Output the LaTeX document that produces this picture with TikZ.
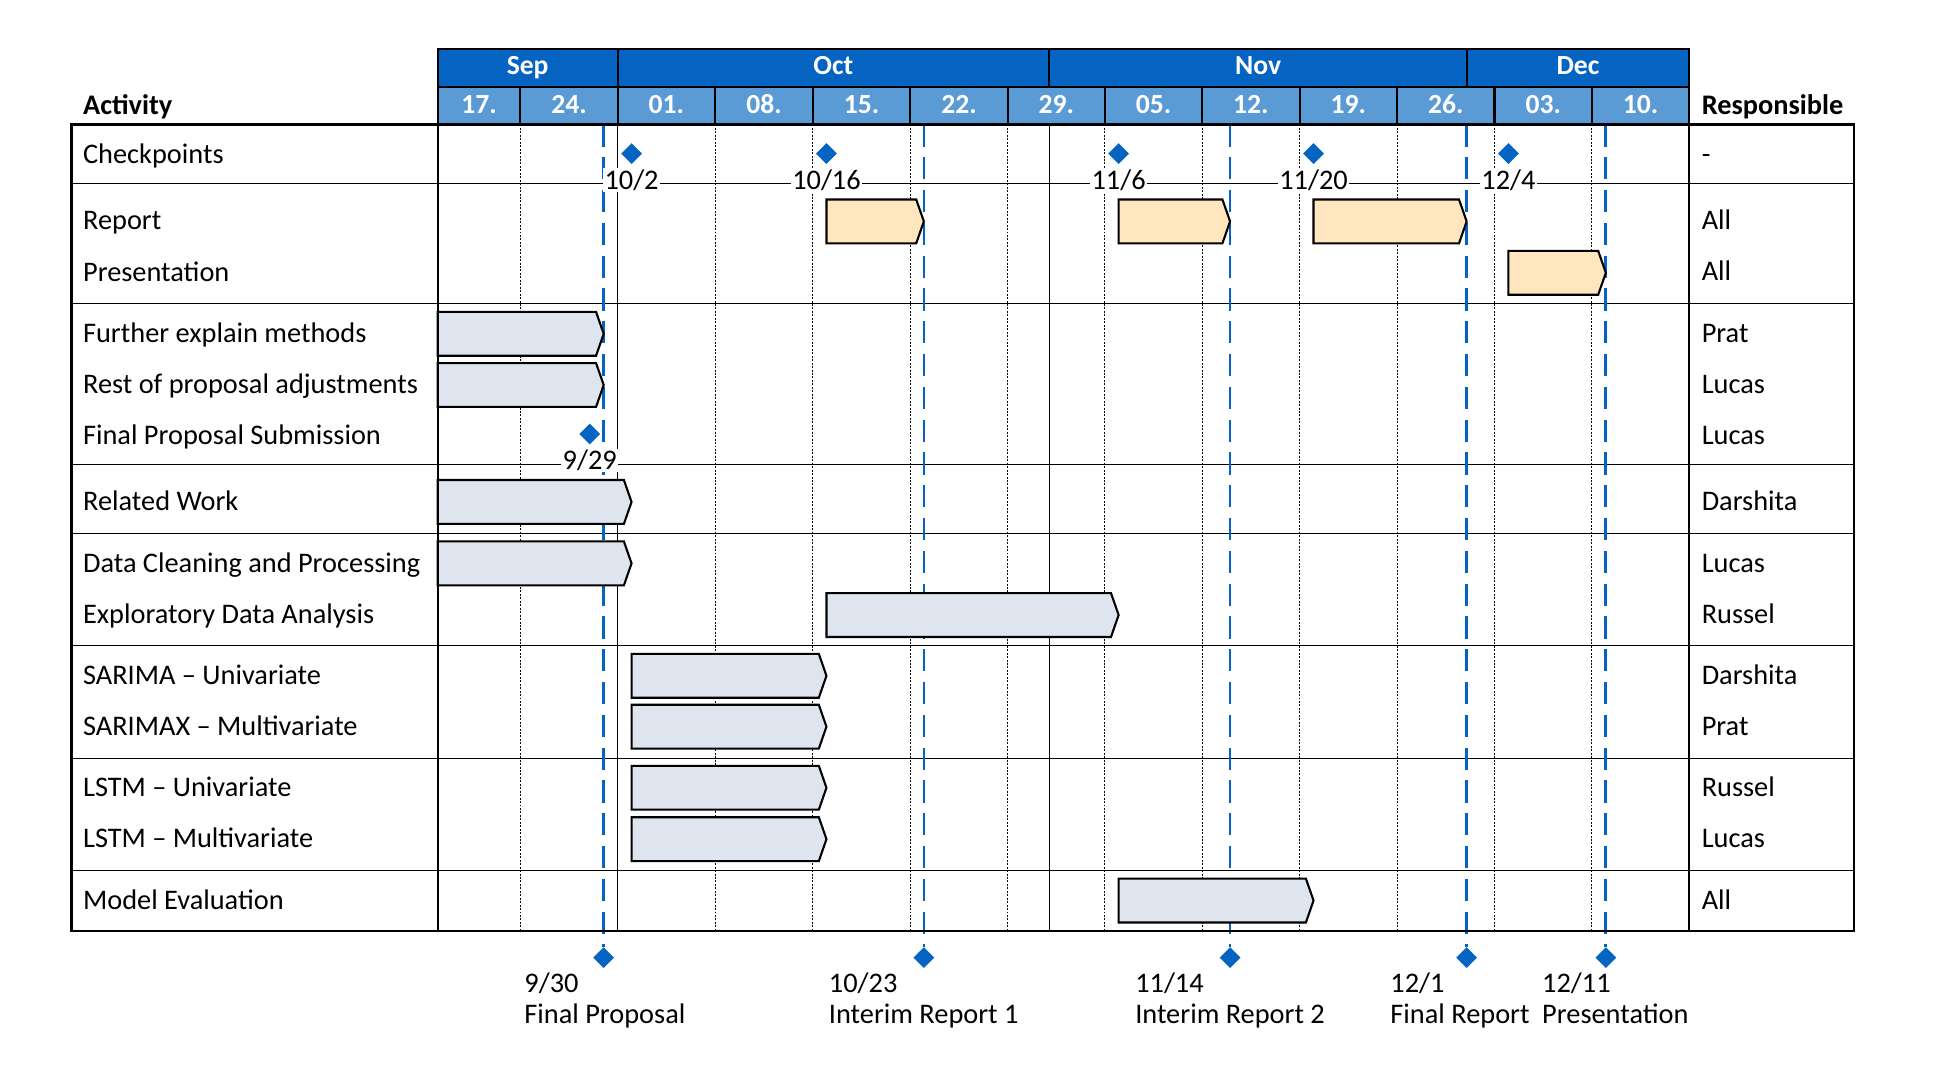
\documentclass[tikz,border=0pt]{standalone}
\usepackage{fontspec}
\setmainfont{Carlito}
\usetikzlibrary{shapes.geometric}
\definecolor{mblue}{RGB}{5,99,193}
\definecolor{wblue}{RGB}{91,155,213}
\definecolor{bargray}{RGB}{222,229,239}
\definecolor{barpeach}{RGB}{255,230,190}
\tikzset{
  txt/.style={anchor=base west, inner sep=0pt, font=\fontsize{11.5}{13.8}\selectfont},
  boldtxt/.style={anchor=base west, inner sep=0pt, font=\fontsize{11.5}{13.8}\selectfont\bfseries},
  hdrtxt/.style={anchor=base, inner sep=0pt, text=white, font=\fontsize{11.2}{13.5}\selectfont\bfseries},
  datelbl/.style={anchor=base, inner sep=0.6pt, fill=white, font=\fontsize{11.5}{13.8}\selectfont},
  dotln/.style={line width=0.4pt, dash pattern=on 0.8pt off 0.6pt},
  thinln/.style={line width=0.45pt},
  thickln/.style={line width=0.85pt},
  msline/.style={mblue, line width=1.1pt, dash pattern=on 9pt off 4.3pt},
  barline/.style={line width=0.85pt, line join=miter},
  dia/.style={diamond, fill=mblue, inner sep=0pt, minimum width=8.6pt, minimum height=8.6pt},
}
\newcommand\gbar[4]{%
  \draw[barline, fill=#4] (#1,#3-17.8) -- (#2-6.2,#3-17.8) -- (#2,#3) -- (#2-6.2,#3+17.8) -- (#1,#3+17.8) -- cycle;}
\begin{document}
\begin{tikzpicture}[x=0.5pt,y=-0.5pt]
\useasboundingbox (0,0) rectangle (1568,871);
% header fills
\fill[mblue] (355,40) rectangle (1370,70.3);
\fill[wblue] (355,70.3) rectangle (1370,100.6);
% dotted week lines
\foreach \x in {422,580,659.4,738.4,817.3,896.3,975.2,1054.2,1133.2,1212.3,1291.3}
  \draw[dotln] (\x,101) -- (\x,755);
% month lines
\foreach \x in {501,851}
  \draw[thinln] (\x,101) -- (\x,755);
% row lines
\foreach \y in {149,246,376.5,432.6,523.3,615,706.3}
  \draw[thinln] (58,\y) -- (1504,\y);
% milestone lines
\coordinate (t1) at (489.7,101);
\coordinate (t2) at (749.4,101);
\coordinate (t3) at (997.8,101);
\coordinate (t4) at (1189.7,101);
\coordinate (t5) at (1302.6,101);
\node[dia] (m1) at (489.7,776.8) {};
\node[dia] (m2) at (749.4,776.8) {};
\node[dia] (m3) at (997.8,776.8) {};
\node[dia] (m4) at (1189.7,776.8) {};
\node[dia] (m5) at (1302.6,776.8) {};
\draw[msline] (t1) -- (m1.north);
\draw[msline] (t2) -- (m2.north);
\draw[msline] (t3) -- (m3.north);
\draw[msline] (t4) -- (m4.north);
\draw[msline] (t5) -- (m5.north);
% bars
\gbar{670.4}{749.4}{179.6}{barpeach}
\gbar{907.4}{997.8}{179.6}{barpeach}
\gbar{1065.5}{1189.7}{179.6}{barpeach}
\gbar{1223.6}{1302.6}{221.3}{barpeach}
\gbar{355}{489.7}{270.8}{bargray}
\gbar{355}{489.7}{312.3}{bargray}
\gbar{355}{512.3}{407.2}{bargray}
\gbar{355}{512.3}{457}{bargray}
\gbar{670.4}{907.4}{498.9}{bargray}
\gbar{512.3}{670.4}{548.2}{bargray}
\gbar{512.3}{670.4}{589.5}{bargray}
\gbar{512.3}{670.4}{639}{bargray}
\gbar{512.3}{670.4}{680.7}{bargray}
\gbar{907.4}{1065.5}{730.5}{bargray}
% checkpoint diamonds
\node[dia] (c1) at (512.3,124.6) {};
\node[dia] (c2) at (670.4,124.6) {};
\node[dia] (c3) at (907.4,124.6) {};
\node[dia] (c4) at (1065.5,124.6) {};
\node[dia] (c5) at (1223.6,124.6) {};
\node[dia] (c6) at (478.4,352) {};
% checkpoint labels
\node[datelbl] (l1) at (512.3,153.5) {10/2};
\node[datelbl] (l2) at (670.4,153.5) {10/16};
\node[datelbl] (l3) at (907.4,153.5) {11/6};
\node[datelbl] (l4) at (1065.5,153.5) {11/20};
\node[datelbl] (l5) at (1223.6,153.5) {12/4};
\node[datelbl] (l6) at (478.4,381) {9/29};
% borders
\draw[thickln] (58,101) rectangle (1504,755);
\draw[thickln] (355,101) -- (355,755);
\draw[thickln] (1370,101) -- (1370,755);
% header lines
\draw[thickln] (355,40) rectangle (1370,100.6);
\draw[thickln] (355,70.3) -- (1370,70.3);
\foreach \x in {501,851,1189.7}
  \draw[thickln] (\x,40) -- (\x,70.3);
\foreach \x in {422,501,580,659.4,738.4,817.3,896.3,975.2,1054.2,1133.2,1212.3,1291.3}
  \draw[thickln] (\x,70.3) -- (\x,100.6);
% header text
\node[hdrtxt] (hsep) at (428,60.8) {Sep};
\node[hdrtxt] (hoct) at (676,60.8) {Oct};
\node[hdrtxt] (hnov) at (1020.5,60.8) {Nov};
\node[hdrtxt] (hdec) at (1280,60.8) {Dec};
\node[hdrtxt] (w1) at (388.5,92) {17.};
\node[hdrtxt] (w2) at (461.5,92) {24.};
\node[hdrtxt] (w3) at (540.5,92) {01.};
\node[hdrtxt] (w4) at (619.7,92) {08.};
\node[hdrtxt] (w5) at (698.9,92) {15.};
\node[hdrtxt] (w6) at (777.9,92) {22.};
\node[hdrtxt] (w7) at (856.8,92) {29.};
\node[hdrtxt] (w8) at (935.8,92) {05.};
\node[hdrtxt] (w9) at (1014.7,92) {12.};
\node[hdrtxt] (w10) at (1093.7,92) {19.};
\node[hdrtxt] (w11) at (1172.7,92) {26.};
\node[hdrtxt] (w12) at (1251.8,92) {03.};
\node[hdrtxt] (w13) at (1330.8,92) {10.};
\node[boldtxt] (hact) at (67,92.5) {Activity};
\node[boldtxt] (hresp) at (1380,92.5) {Responsible};
% activity names
\node[txt] (a1) at (67,133) {Checkpoints};
\node[txt] (a2) at (67,186.5) {Report};
\node[txt] (a3) at (67,228) {Presentation};
\node[txt] (a4) at (67,278) {Further explain methods};
\node[txt] (a5) at (67,319.5) {Rest of proposal adjustments};
\node[txt] (a6) at (67,360.5) {Final Proposal Submission};
\node[txt] (a7) at (67,414.5) {Related Work};
\node[txt] (a8) at (67,464) {Data Cleaning and Processing};
\node[txt] (a9) at (67,506) {Exploratory Data Analysis};
\node[txt] (a10) at (67,555) {SARIMA – Univariate};
\node[txt] (a11) at (67,596.5) {SARIMAX – Multivariate};
\node[txt] (a12) at (67,646) {LSTM – Univariate};
\node[txt] (a13) at (67,687.5) {LSTM – Multivariate};
\node[txt] (a14) at (67,737.6) {Model Evaluation};
% responsible
\node[txt] (r1) at (1380,133) {-};
\node[txt] (r2) at (1380,186) {All};
\node[txt] (r3) at (1380,227.5) {All};
\node[txt] (r4) at (1380,278) {Prat};
\node[txt] (r5) at (1380,319.5) {Lucas};
\node[txt] (r6) at (1380,360.5) {Lucas};
\node[txt] (r7) at (1380,414.5) {Darshita};
\node[txt] (r8) at (1380,464) {Lucas};
\node[txt] (r9) at (1380,506) {Russel};
\node[txt] (r10) at (1380,555) {Darshita};
\node[txt] (r11) at (1380,596.5) {Prat};
\node[txt] (r12) at (1380,646) {Russel};
\node[txt] (r13) at (1380,687.5) {Lucas};
\node[txt] (r14) at (1380,737.6) {All};
% milestone labels
\node[txt] (d1) at (425,805) {9/30};
\node[txt] (n1) at (425,830) {Final Proposal};
\node[txt] (d2) at (672,805) {10/23};
\node[txt] (n2) at (672,830) {Interim Report 1};
\node[txt] (d3) at (920.5,805) {11/14};
\node[txt] (n3) at (920.5,830) {Interim Report 2};
\node[txt] (d4) at (1127.5,805) {12/1};
\node[txt] (n4) at (1127.5,830) {Final Report};
\node[txt] (d5) at (1250.6,805) {12/11};
\node[txt] (n5) at (1250.6,830) {Presentation};
\end{tikzpicture}
\end{document}
